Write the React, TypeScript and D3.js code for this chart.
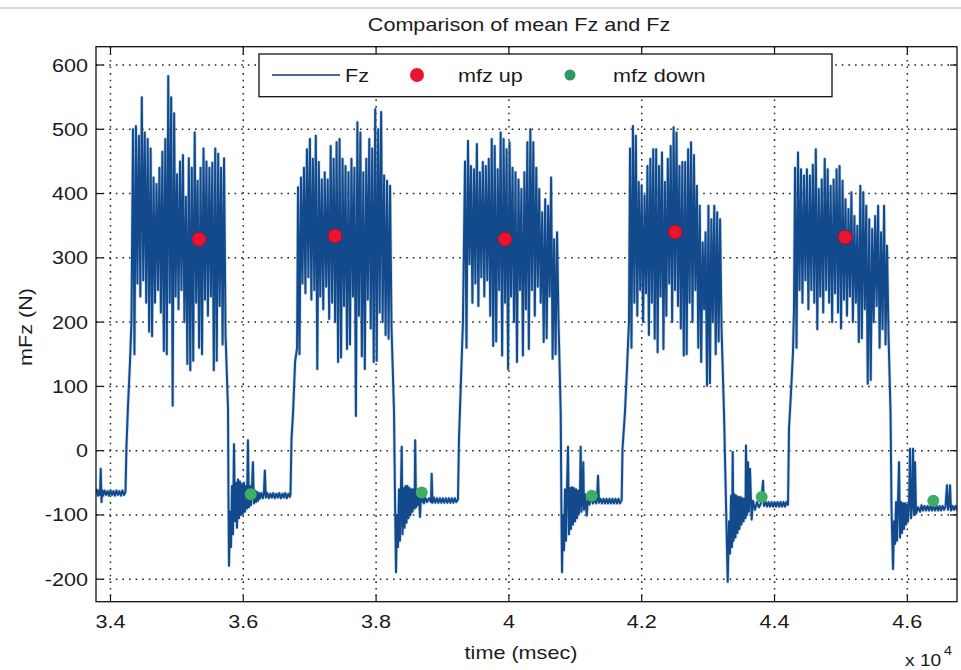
import React, { useEffect, useRef } from "react";
import * as d3 from "d3";

// ---- values ----
const xTicks = [34000, 36000, 38000, 40000, 42000, 44000, 46000];
const xTickLabels = ["3.4", "3.6", "3.8", "4", "4.2", "4.4", "4.6"];
const yTicks = [-200, -100, 0, 100, 200, 300, 400, 500, 600];
const yTickLabels = ["-200", "-100", "0", "100", "200", "300", "400", "500", "600"];

// mean markers
const mfzUpTime = [35333, 37381, 39941, 42502, 45062];
const mfzUpValue = [329, 334, 329, 340, 332];
const mfzDownTime = [36111, 38687, 41247, 43807, 46391];
const mfzDownValue = [-68, -65, -70, -72, -78];

// loaded phases: start / end time, then alternating peak / trough samples
const blockStart = [34339, 36824, 39339, 41824, 44309];
const blockEnd = [35755, 38255, 40770, 43224, 45739];

const block1Peaks = [500, 505, 490, 550, 495, 485, 470, 425, 415, 440, 465, 485, 583, 550, 525, 430, 450, 460, 395, 455, 440, 495, 420, 440, 470, 450, 440, 448, 470, 462, 440, 455];
const block1Troughs = [150, 260, 240, 265, 230, 185, 178, 230, 250, 215, 155, 150, 230, 70, 240, 220, 250, 200, 135, 125, 140, 230, 160, 150, 235, 210, 240, 125, 140, 225, 165, 180];
const block2Peaks = [410, 425, 440, 469, 485, 454, 490, 449, 422, 433, 422, 474, 454, 480, 485, 454, 443, 433, 454, 440, 511, 495, 433, 454, 485, 470, 531, 500, 527, 428, 420, 412];
const block2Troughs = [150, 260, 245, 270, 235, 250, 127, 240, 220, 255, 205, 230, 200, 138, 145, 225, 158, 165, 240, 54, 210, 147, 127, 235, 190, 138, 140, 215, 200, 180, 174, 190];
const block3Peaks = [450, 482, 443, 438, 477, 433, 449, 443, 454, 485, 474, 438, 495, 485, 469, 480, 440, 433, 422, 407, 433, 480, 500, 480, 440, 407, 371, 391, 381, 425, 329, 340];
const block3Troughs = [160, 290, 230, 260, 225, 270, 240, 265, 210, 163, 170, 250, 148, 230, 127, 240, 200, 138, 250, 148, 220, 158, 250, 210, 255, 230, 169, 175, 240, 143, 150, 200];
const block4Peaks = [470, 505, 490, 418, 413, 397, 443, 454, 469, 469, 443, 464, 418, 454, 474, 503, 495, 443, 449, 449, 469, 480, 460, 412, 381, 324, 340, 381, 360, 381, 371, 360];
const block4Troughs = [160, 230, 210, 250, 200, 245, 180, 230, 174, 153, 240, 158, 210, 260, 200, 250, 225, 190, 148, 150, 230, 200, 250, 160, 138, 220, 101, 105, 200, 150, 170, 190];
const block5Peaks = [440, 464, 438, 428, 438, 428, 445, 469, 407, 422, 454, 438, 412, 422, 438, 443, 420, 391, 376, 402, 365, 350, 412, 402, 381, 360, 345, 365, 381, 340, 381, 319];
const block5Troughs = [160, 250, 230, 265, 220, 250, 230, 189, 240, 215, 250, 230, 200, 245, 215, 190, 235, 210, 240, 200, 230, 169, 175, 220, 104, 110, 200, 225, 160, 189, 165, 180];

// unloaded phases [time, value]
const leadIn = [[33780, -66], [33795, -61], [33812, -70], [33827, -62], [33842, -69], [33853, -28], [33865, -80], [33876, -62], [33887, -70], [33910, -62], [33932, -69], [33955, -63], [33978, -70], [34000, -62], [34023, -69], [34045, -63], [34068, -70], [34090, -62], [34113, -69], [34135, -63], [34158, -70], [34180, -62], [34203, -69], [34226, -64], [34241, 8], [34264, 70], [34294, 138], [34316, 200]];

const down1 = [[35770, 65], [35777, -75], [35785, -179], [35800, -95], [35815, -150], [35830, -55], [35845, -130], [35860, 10], [35875, -110], [35890, -50], [35905, -120], [35920, -45], [35935, -105], [35950, -48], [35965, -100], [35980, -52], [35995, -98], [36010, -50], [36025, -95], [36040, -55], [36055, -90], [36070, 16], [36085, -88], [36100, -55], [36115, -85], [36130, -60], [36145, -18], [36160, -82], [36175, -62], [36190, -80], [36205, -64], [36220, -78], [36235, -66],
  [36250, -75], [36272, -66], [36295, -74], [36310, -67], [36325, -31], [36340, -73], [36362, -66], [36385, -74], [36408, -67], [36430, -73], [36452, -66], [36475, -74], [36498, -67], [36520, -73], [36542, -66], [36565, -74], [36588, -67], [36610, -73], [36632, -66], [36655, -74], [36678, -67], [36700, -72], [36711, -68], [36726, 18], [36750, 60], [36780, 138], [36810, 160]];

const down2 = [[38270, 60], [38285, -75], [38300, -189], [38315, -100], [38330, -150], [38345, -60], [38360, -140], [38375, -55], [38386, 6], [38398, -130], [38413, -58], [38428, -120], [38443, -55], [38458, -112], [38473, -55], [38488, -105], [38503, -58], [38518, -100], [38533, -60], [38548, -95], [38563, -60], [38579, -90], [38589, 16], [38601, -88], [38616, -62], [38631, -85], [38646, -65], [38661, -103], [38676, -68], [38691, -80], [38706, -70], [38721, -82],
  [38736, -72], [38766, -80], [38796, -74], [38827, -80], [38837, -36], [38849, -81], [38870, -73], [38892, -81], [38915, -74], [38938, -81], [38960, -74], [38983, -81], [39005, -74], [39028, -81], [39050, -74], [39073, -81], [39096, -74], [39118, -81], [39141, -74], [39163, -81], [39186, -74], [39208, -80], [39233, -76], [39248, 18], [39278, 109], [39308, 200]];

const down3 = [[40780, 60], [40790, -80], [40800, -189], [40815, -100], [40830, -155], [40845, -60], [40860, -140], [40875, -58], [40890, 6], [40905, -130], [40920, -58], [40935, -122], [40950, -57], [40965, -115], [40980, -58], [40996, -110], [41011, -60], [41026, -105], [41041, -62], [41056, -98], [41071, -63], [41081, 6], [41093, -95], [41108, -65], [41120, -18], [41131, -92], [41146, -68], [41172, -101], [41191, -72], [41214, -84], [41236, -74], [41266, -82],
  [41297, -76], [41315, -82], [41327, -76], [41342, -39], [41357, -81], [41380, -75], [41402, -82], [41425, -75], [41447, -82], [41470, -75], [41492, -82], [41515, -75], [41537, -82], [41560, -75], [41582, -82], [41605, -75], [41627, -82], [41650, -75], [41673, -82], [41698, -77], [41711, 3], [41748, 60], [41778, 127], [41808, 200]];

const down4 = [[43239, 60], [43270, -85], [43295, -204], [43315, -110], [43330, -160], [43345, -70], [43360, -150], [43370, -2], [43382, -140], [43397, -68], [43412, -135], [43427, -70], [43442, -128], [43457, -72], [43472, -122], [43487, -72], [43502, -115], [43518, -74], [43533, -110], [43548, -75], [43563, -105], [43570, 8], [43585, -100], [43600, -18], [43615, -95], [43630, -28], [43656, -107], [43676, -78], [43706, -92], [43736, -80], [43766, -88], [43796, -82], [43827, -47],
  [43842, -86], [43865, -79], [43887, -87], [43910, -80], [43932, -87], [43955, -80], [43977, -87], [44000, -80], [44022, -87], [44045, -80], [44068, -87], [44090, -80], [44113, -87], [44135, -80], [44158, -87], [44180, -80], [44203, -84], [44218, 34], [44248, 90], [44278, 153], [44293, 220]];

const down5 = [[45747, 60], [45762, -90], [45785, -184], [45800, -110], [45815, -145], [45830, -80], [45845, -140], [45860, -78], [45875, -18], [45890, -135], [45905, -80], [45920, -128], [45935, -82], [45950, -122], [45965, -82], [45980, -115], [45995, -84], [46010, -110], [46025, -85], [46041, 3], [46056, -105], [46071, -86], [46086, 3], [46101, -100], [46116, -18], [46131, -98], [46161, -88],
  [46191, -95], [46214, -85], [46236, -93], [46259, -86], [46282, -93], [46305, -86], [46327, -93], [46350, -86], [46372, -93], [46395, -86], [46417, -93], [46440, -86], [46462, -93], [46485, -86], [46507, -93], [46530, -86], [46552, -92], [46575, -87], [46597, -54], [46612, -92], [46628, -86], [46643, -54], [46658, -93], [46680, -86], [46703, -92], [46725, -86], [46748, -92], [46793, -88]];

// one sample per peak and one per trough, spread across the loaded phase
function blockSamples(start: number, end: number, peaks: number[], troughs: number[]) {
  const step = (end - start) / peaks.length;
  const out: number[][] = [];
  peaks.forEach((p, i) => {
    out.push([start + i * step, p]);
    out.push([start + (i + 0.5) * step, troughs[i]]);
  });
  return out;
}

const fz = [
  ...leadIn,
  ...blockSamples(blockStart[0], blockEnd[0], block1Peaks, block1Troughs),
  ...down1,
  ...blockSamples(blockStart[1], blockEnd[1], block2Peaks, block2Troughs),
  ...down2,
  ...blockSamples(blockStart[2], blockEnd[2], block3Peaks, block3Troughs),
  ...down3,
  ...blockSamples(blockStart[3], blockEnd[3], block4Peaks, block4Troughs),
  ...down4,
  ...blockSamples(blockStart[4], blockEnd[4], block5Peaks, block5Troughs),
  ...down5,
];

const FONT = "'Liberation Sans', Arial, Helvetica, sans-serif";
const SX = 1.2; // glyphs in the figure are wider than Arial

export default function App() {
  const ref = useRef<SVGSVGElement>(null);

  useEffect(() => {
    const W = 961, H = 670;
    const left = 96, right = 957, top = 46.7, bottom = 601.7;

    const svg = d3.select(ref.current).attr("width", W).attr("height", H);
    svg.selectAll("*").remove();

    const x = d3.scaleLinear().domain([33782, 46748]).range([left, right]);
    const y = d3.scaleLinear().domain([-235, 628.5]).range([bottom, top]);

    const txt = (s: string, tx: number, ty: number, anchor = "start", size = 18, rot = 0) =>
      svg.append("text")
        .attr("transform", `translate(${tx},${ty}) rotate(${rot}) scale(${SX},1)`)
        .attr("text-anchor", anchor)
        .style("font-family", FONT)
        .style("font-size", size + "px")
        .style("fill", "#1b1b1b")
        .text(s);

    svg.append("rect").attr("width", W).attr("height", H).attr("fill", "#fff");
    svg.append("line").attr("x1", 0).attr("x2", W).attr("y1", 8).attr("y2", 8)
      .attr("stroke", "#cfcfcf").attr("stroke-width", 1.5);

    // dotted grid
    const grid = svg.append("g").attr("stroke", "#222").attr("stroke-width", 1.5)
      .attr("stroke-dasharray", "1.6,5");
    grid.selectAll(".gx").data(xTicks).join("line")
      .attr("x1", d => x(d)).attr("x2", d => x(d)).attr("y1", top).attr("y2", bottom);
    grid.selectAll(".gy").data(yTicks).join("line")
      .attr("y1", d => y(d)).attr("y2", d => y(d)).attr("x1", left).attr("x2", right);

    // Fz signal
    svg.append("clipPath").attr("id", "plotclip").append("rect")
      .attr("x", left).attr("y", top).attr("width", right - left).attr("height", bottom - top);
    const line = d3.line<number[]>().x(d => x(d[0])).y(d => y(d[1]));
    const plot = svg.append("g").attr("clip-path", "url(#plotclip)");
    plot.append("path").datum(fz).attr("d", line).attr("fill", "none")
      .attr("stroke", "#8db8e2").attr("stroke-width", 3.4).attr("opacity", 0.5)
      .attr("stroke-linejoin", "round");
    plot.append("path").datum(fz).attr("d", line).attr("fill", "none")
      .attr("stroke", "#134a8b").attr("stroke-width", 2).attr("stroke-linejoin", "round");

    // mean markers
    plot.selectAll(".up").data(mfzUpTime).join("circle")
      .attr("cx", d => x(d)).attr("cy", (d, i) => y(mfzUpValue[i])).attr("r", 7)
      .attr("fill", "#e9152f").attr("stroke", "#9c0d24").attr("stroke-width", 0.8);
    plot.selectAll(".down").data(mfzDownTime).join("circle")
      .attr("cx", d => x(d)).attr("cy", (d, i) => y(mfzDownValue[i])).attr("r", 6)
      .attr("fill", "#3fae62");

    // axes box and inward ticks
    svg.append("rect").attr("x", left).attr("y", top).attr("width", right - left)
      .attr("height", bottom - top).attr("fill", "none").attr("stroke", "#111").attr("stroke-width", 1.3);
    const ticks = svg.append("g").attr("stroke", "#111").attr("stroke-width", 1.2);
    xTicks.forEach(t => {
      ticks.append("line").attr("x1", x(t)).attr("x2", x(t)).attr("y1", bottom).attr("y2", bottom - 7);
      ticks.append("line").attr("x1", x(t)).attr("x2", x(t)).attr("y1", top).attr("y2", top + 7);
    });
    yTicks.forEach(t => {
      ticks.append("line").attr("y1", y(t)).attr("y2", y(t)).attr("x1", left).attr("x2", left + 7);
      ticks.append("line").attr("y1", y(t)).attr("y2", y(t)).attr("x1", right).attr("x2", right - 7);
    });

    xTicks.forEach((t, i) => txt(xTickLabels[i], x(t), 628, "middle"));
    yTicks.forEach((t, i) => txt(yTickLabels[i], 88, y(t) + 6.5, "end"));

    // labels
    txt("Comparison of mean Fz and Fz", 519, 31, "middle");
    txt("time (msec)", 521, 659, "middle");
    txt("mFz (N)", 32, 327, "middle", 18, -90);
    txt("x 10", 905, 666, "start", 16);
    txt("4", 944, 655, "start", 12);

    // legend
    const lg = svg.append("g");
    lg.append("rect").attr("x", 259).attr("y", 54).attr("width", 573).attr("height", 42.7)
      .attr("fill", "#fff").attr("stroke", "#111").attr("stroke-width", 1.3);
    lg.append("line").attr("x1", 272).attr("x2", 340).attr("y1", 75).attr("y2", 75)
      .attr("stroke", "#0f3b73").attr("stroke-width", 1.6);
    lg.append("circle").attr("cx", 417).attr("cy", 75).attr("r", 7).attr("fill", "#e9152f");
    lg.append("circle").attr("cx", 570).attr("cy", 75).attr("r", 5.5).attr("fill", "#2e9a62");
    txt("Fz", 345, 82);
    txt("mfz up", 458, 82);
    txt("mfz down", 613, 82);
  }, []);

  return (
    <div style={{ position: "absolute", left: 0, top: 0 }}>
      <svg ref={ref} style={{ display: "block" }}></svg>
    </div>
  );
}
